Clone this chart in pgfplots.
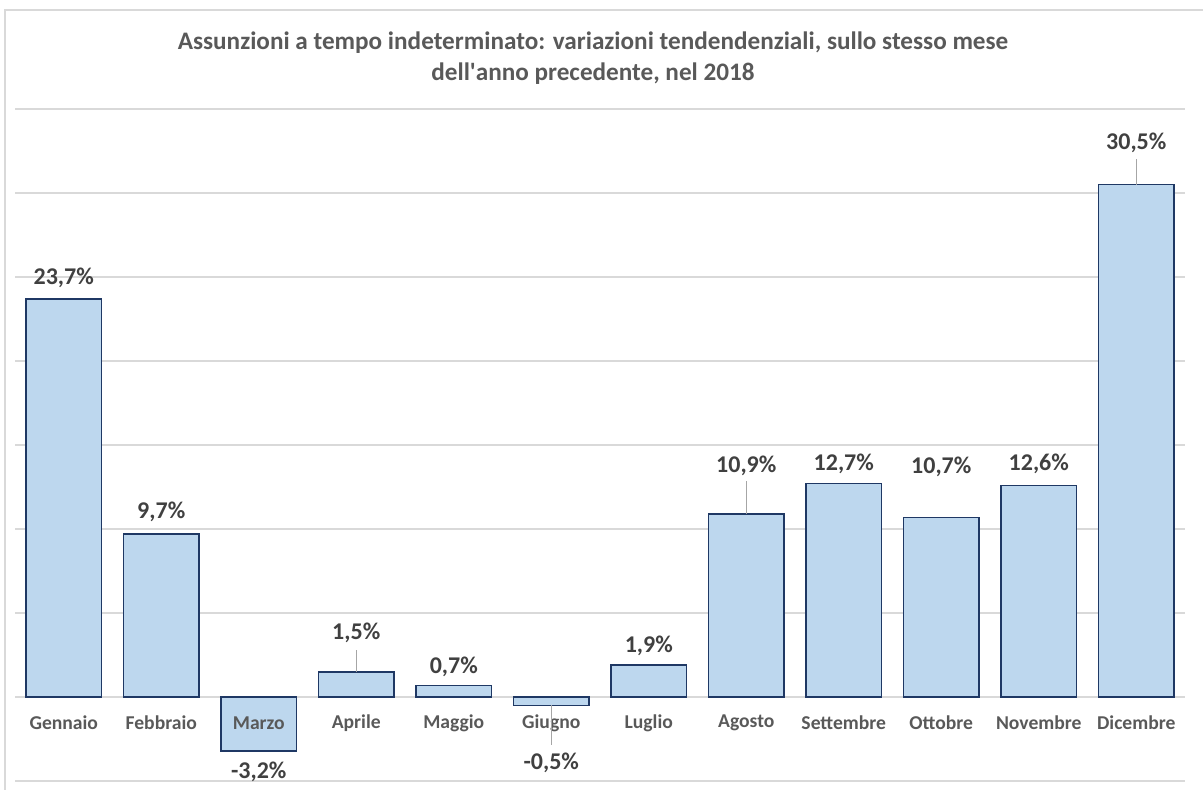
\documentclass[border=0pt]{standalone}
\usepackage{pgfplots}
\usepackage{pgfplotstable}
\pgfplotsset{compat=1.18}
\usepackage{fontspec}
\setmainfont{Carlito}
\definecolor{barfill}{HTML}{BDD7EE}
\definecolor{barline}{HTML}{1F3864}
\definecolor{gridc}{HTML}{D9D9D9}
\definecolor{titlec}{HTML}{595959}
\definecolor{labc}{HTML}{404040}
\definecolor{leadc}{HTML}{A6A6A6}
\tikzset{lab/.style={font=\bfseries\fontsize{12}{14}\selectfont, text=labc},
  cat/.style={font=\bfseries\fontsize{9.8}{12}\selectfont, text=titlec}}

\pgfplotstableread{
x y
0 23.7
1 9.7
2 -3.2
3 1.5
4 0.7
5 -0.5
6 1.9
7 10.9
8 12.7
9 10.7
10 12.6
11 30.5
}\datatable

\begin{document}
\begin{tikzpicture}
\useasboundingbox (0pt,0pt) rectangle (601.5pt,-394.5pt);
\draw[gridc, line width=0.75pt] (2.5pt,-5pt) rectangle (630pt,-430pt);
\node[font=\bfseries\fontsize{12.6}{15.5}\selectfont, text=titlec, align=center] at (296.5pt,-29pt)
  {Assunzioni a tempo indeterminato: variazioni tendendenziali, sullo stesso mese\\dell\textquotesingle anno precedente, nel 2018};
\begin{axis}[
  at={(7.5pt,-390.5pt)}, anchor=south west,
  scale only axis, width=585pt, height=336pt,
  xmin=-0.5, xmax=11.5, ymin=-5, ymax=35,
  ytick={-5,0,...,35}, yticklabels={},
  ymajorgrids, grid style={gridc, line width=0.75pt},
  axis line style={draw=none},
  major tick length=0pt,
  xtick=\empty,
  clip=false,
]
\addplot[ybar, fill=barfill, draw=barline, line width=0.75pt, bar width=0.779] table[x=x,y=y] {\datatable};
\node[cat] at (axis cs:0,-1.55) {Gennaio};
\node[cat] at (axis cs:1,-1.55) {Febbraio};
\node[cat] at (axis cs:2,-1.55) {Marzo};
\node[cat] at (axis cs:3,-1.55) {Aprile};
\node[cat] at (axis cs:4,-1.55) {Maggio};
\node[cat] at (axis cs:5,-1.55) {Giugno};
\node[cat] at (axis cs:6,-1.55) {Luglio};
\node[cat] at (axis cs:7,-1.55) {Agosto};
\node[cat] at (axis cs:8,-1.55) {Settembre};
\node[cat] at (axis cs:9,-1.55) {Ottobre};
\node[cat] at (axis cs:10,-1.55) {Novembre};
\node[cat] at (axis cs:11,-1.55) {Dicembre};
\draw[leadc, line width=0.5pt] (axis cs:3,1.5) -- (axis cs:3,2.8);
\draw[leadc, line width=0.5pt] (axis cs:5,-0.5) -- (axis cs:5,-2.86);
\draw[leadc, line width=0.5pt] (axis cs:7,10.9) -- (axis cs:7,12.86);
\draw[leadc, line width=0.5pt] (axis cs:11,30.5) -- (axis cs:11,32.02);
\node[lab] at (axis cs:0,24.94) {23,7\%};
\node[lab] at (axis cs:1,11.0) {9,7\%};
\node[lab] at (axis cs:2,-4.46) {-3,2\%};
\node[lab] at (axis cs:3,3.81) {1,5\%};
\node[lab] at (axis cs:4,1.79) {0,7\%};
\node[lab] at (axis cs:5,-3.93) {-0,5\%};
\node[lab] at (axis cs:6,3.04) {1,9\%};
\node[lab] at (axis cs:7,13.75) {10,9\%};
\node[lab] at (axis cs:8,13.87) {12,7\%};
\node[lab] at (axis cs:9,13.7) {10,7\%};
\node[lab] at (axis cs:10,13.87) {12,6\%};
\node[lab] at (axis cs:11,32.98) {30,5\%};
\end{axis}
\end{tikzpicture}
\end{document}
